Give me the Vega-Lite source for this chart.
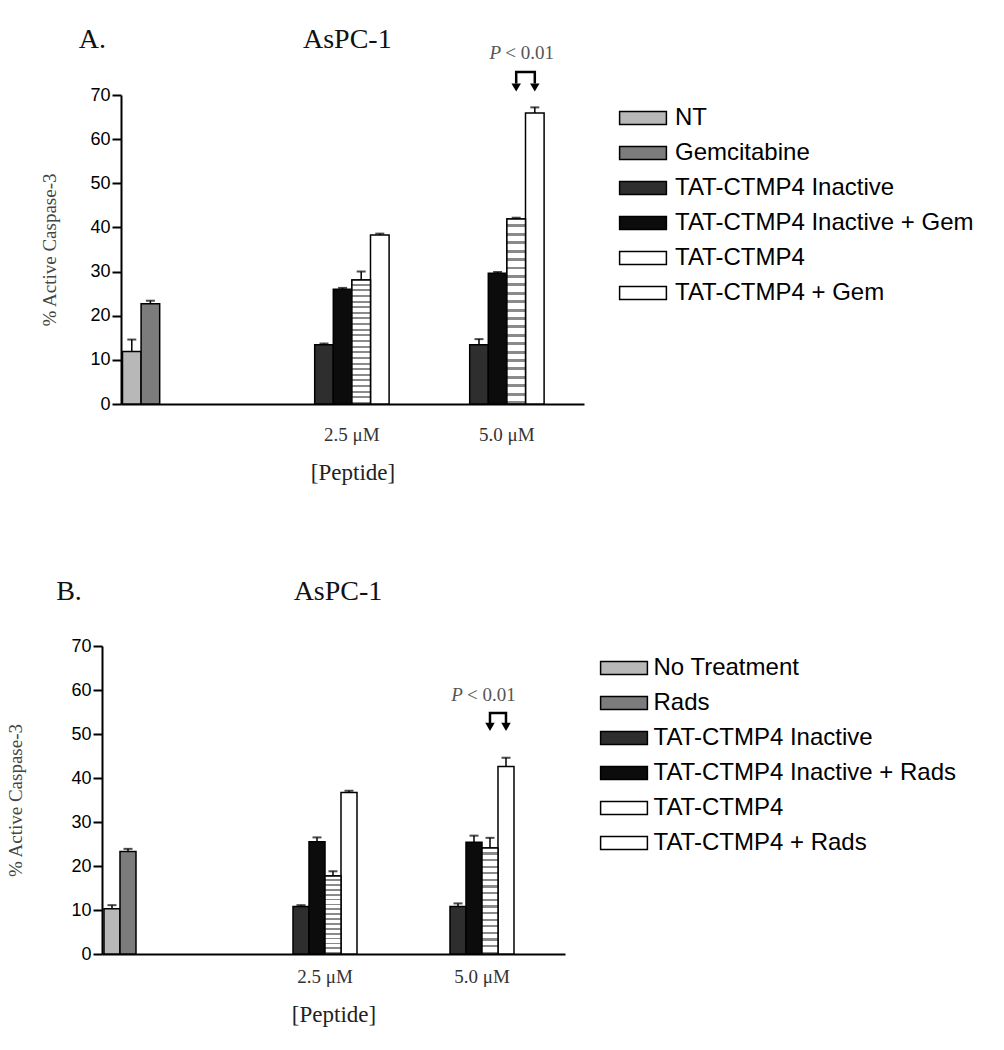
{
"$schema": "https://vega.github.io/schema/vega-lite/v6.json",
"background": "white",
"padding": {"left": 6, "top": 25, "right": 5, "bottom": 5},
"bounds": "flush",
"spacing": 242,
"config": {"view": {"stroke": null}, "axis": {"grid": false}},
"resolve": {"scale": {"x": "independent", "y": "independent", "xOffset": "independent", "fill": "independent"}, "legend": {"fill": "independent"}},
"datasets": {
"barsA": [
{"group":"ctrl","series":"NT","value":11.9,"upper":14.6},
{"group":"ctrl","series":"Gemcitabine","value":22.7,"upper":23.4},
{"group":"2.5 μM","series":"TAT-CTMP4 Inactive","value":13.4,"upper":13.7},
{"group":"2.5 μM","series":"TAT-CTMP4 Inactive + Gem","value":26.0,"upper":26.3},
{"group":"2.5 μM","series":"TAT-CTMP4","value":28.1,"upper":30.0},
{"group":"2.5 μM","series":"TAT-CTMP4 + Gem","value":38.3,"upper":38.6},
{"group":"5.0 μM","series":"TAT-CTMP4 Inactive","value":13.4,"upper":14.7},
{"group":"5.0 μM","series":"TAT-CTMP4 Inactive + Gem","value":29.6,"upper":29.9},
{"group":"5.0 μM","series":"TAT-CTMP4","value":41.9,"upper":42.2},
{"group":"5.0 μM","series":"TAT-CTMP4 + Gem","value":65.9,"upper":67.2}
],
"bracketA": [
{"group":"5.0 μM","series":"TAT-CTMP4","value":72.6,"o":1},
{"group":"5.0 μM","series":"TAT-CTMP4","value":75.2,"o":2},
{"group":"5.0 μM","series":"TAT-CTMP4 + Gem","value":75.2,"o":3},
{"group":"5.0 μM","series":"TAT-CTMP4 + Gem","value":72.6,"o":4}
],
"arrowsA": [
{"group":"5.0 μM","series":"TAT-CTMP4","value":71.7},
{"group":"5.0 μM","series":"TAT-CTMP4 + Gem","value":71.7}
],
"pA": [{"group":"5.0 μM","series":"TAT-CTMP4","value":79.5}],
"barsB": [
{"group":"ctrl","series":"No Treatment","value":10.3,"upper":11.1},
{"group":"ctrl","series":"Rads","value":23.3,"upper":23.9},
{"group":"2.5 μM","series":"TAT-CTMP4 Inactive","value":10.8,"upper":11.1},
{"group":"2.5 μM","series":"TAT-CTMP4 Inactive + Rads","value":25.5,"upper":26.5},
{"group":"2.5 μM","series":"TAT-CTMP4","value":17.7,"upper":18.8},
{"group":"2.5 μM","series":"TAT-CTMP4 + Rads","value":36.7,"upper":37.1},
{"group":"5.0 μM","series":"TAT-CTMP4 Inactive","value":10.8,"upper":11.5},
{"group":"5.0 μM","series":"TAT-CTMP4 Inactive + Rads","value":25.4,"upper":26.9},
{"group":"5.0 μM","series":"TAT-CTMP4","value":24.1,"upper":26.4},
{"group":"5.0 μM","series":"TAT-CTMP4 + Rads","value":42.6,"upper":44.6}
],
"bracketB": [
{"group":"5.0 μM","series":"TAT-CTMP4","value":52.4,"o":1},
{"group":"5.0 μM","series":"TAT-CTMP4","value":54.8,"o":2},
{"group":"5.0 μM","series":"TAT-CTMP4 + Rads","value":54.8,"o":3},
{"group":"5.0 μM","series":"TAT-CTMP4 + Rads","value":52.4,"o":4}
],
"arrowsB": [
{"group":"5.0 μM","series":"TAT-CTMP4","value":51.6},
{"group":"5.0 μM","series":"TAT-CTMP4 + Rads","value":51.6}
],
"pB": [{"group":"5.0 μM","series":"TAT-CTMP4","value":58.9}]
},
"vconcat": [
{
"width": 482, "height": 309,
"layer": [
{
"data": {"name": "barsA"},
"mark": {"type": "bar", "stroke": "black", "strokeWidth": 1.5},
"encoding": {
"x": {"field": "group", "type": "nominal", "sort": null,
 "scale": {"domain": ["ctrl", "2.5 μM", "5.0 μM"], "range": [19, 482], "paddingInner": 0.28, "paddingOuter": 0.1335, "align": 0.036},
 "axis": {"title": "[Peptide]", "titleFont": "Liberation Serif", "titleFontSize": 23, "titleFontWeight": "normal", "titleColor": "#222", "titlePadding": 17,
  "labelFont": "Liberation Serif", "labelFontSize": 19, "labelColor": "#333", "labelAngle": 0, "labelExpr": "datum.value == 'ctrl' ? '' : datum.value",
  "ticks": false, "tickSize": 0, "labelPadding": 21, "labelOffset": 18.6, "domainColor": "black", "domainWidth": 2}},
"xOffset": {"field": "series", "type": "nominal", "scale": {"domain": ["NT", "Gemcitabine", "TAT-CTMP4 Inactive", "TAT-CTMP4 Inactive + Gem", "TAT-CTMP4", "TAT-CTMP4 + Gem"], "paddingInner": 0, "paddingOuter": 0}},
"y": {"field": "value", "type": "quantitative",
 "scale": {"domain": [0, 70], "nice": false},
 "axis": {"offset": -19, "values": [0, 10, 20, 30, 40, 50, 60, 70], "title": "% Active Caspase-3", "titleFont": "Liberation Serif", "titleFontSize": 19, "titleFontWeight": "normal", "titleColor": "#444", "titlePadding": 30,
  "labelFont": "Liberation Sans", "labelFontSize": 18, "labelColor": "black", "labelPadding": 2, "tickSize": 9, "tickColor": "black", "tickWidth": 2, "domainColor": "black", "domainWidth": 2}},
"fill": {"field": "series", "type": "nominal",
 "scale": {"domain": ["NT", "Gemcitabine", "TAT-CTMP4 Inactive", "TAT-CTMP4 Inactive + Gem", "TAT-CTMP4", "TAT-CTMP4 + Gem"], "range": ["#b8b8b8", "#7c7c7c", "#2e2e2e", "#0c0c0c", "#ffffff", "#ffffff"]},
 "legend": {"title": null, "orient": "none", "legendX": 529, "legendY": 11, "padding": 0, "labelFont": "Liberation Sans", "labelFontSize": 24, "labelColor": "black", "labelLimit": 400,
  "symbolType": "M-3.6,-1H3.6V1H-3.6Z", "symbolSize": 169, "symbolStrokeColor": "black", "symbolStrokeWidth": 1.5, "rowPadding": 11, "labelOffset": 20}}
}
},
{
"data": {"name": "barsA"},
"transform": [{"filter": "datum.series == 'TAT-CTMP4'"}],
"mark": {"type": "bar", "stroke": "black", "strokeWidth": 1.5,
 "fill": {"gradient": "linear", "x1": 0, "y1": 0, "x2": 0, "y2": 1, "stops": [
{"offset":0,"color":"#ffffff"},{"offset":0.0295,"color":"#ffffff"},{"offset":0.0295,"color":"#8a8a8a"},{"offset":0.0455,"color":"#8a8a8a"},
{"offset":0.0455,"color":"#ffffff"},{"offset":0.0750,"color":"#ffffff"},{"offset":0.0750,"color":"#8a8a8a"},{"offset":0.0909,"color":"#8a8a8a"},
{"offset":0.0909,"color":"#ffffff"},{"offset":0.1204,"color":"#ffffff"},{"offset":0.1204,"color":"#8a8a8a"},{"offset":0.1364,"color":"#8a8a8a"},
{"offset":0.1364,"color":"#ffffff"},{"offset":0.1659,"color":"#ffffff"},{"offset":0.1659,"color":"#8a8a8a"},{"offset":0.1818,"color":"#8a8a8a"},
{"offset":0.1818,"color":"#ffffff"},{"offset":0.2113,"color":"#ffffff"},{"offset":0.2113,"color":"#8a8a8a"},{"offset":0.2273,"color":"#8a8a8a"},
{"offset":0.2273,"color":"#ffffff"},{"offset":0.2568,"color":"#ffffff"},{"offset":0.2568,"color":"#8a8a8a"},{"offset":0.2727,"color":"#8a8a8a"},
{"offset":0.2727,"color":"#ffffff"},{"offset":0.3022,"color":"#ffffff"},{"offset":0.3022,"color":"#8a8a8a"},{"offset":0.3182,"color":"#8a8a8a"},
{"offset":0.3182,"color":"#ffffff"},{"offset":0.3477,"color":"#ffffff"},{"offset":0.3477,"color":"#8a8a8a"},{"offset":0.3636,"color":"#8a8a8a"},
{"offset":0.3636,"color":"#ffffff"},{"offset":0.3931,"color":"#ffffff"},{"offset":0.3931,"color":"#8a8a8a"},{"offset":0.4091,"color":"#8a8a8a"},
{"offset":0.4091,"color":"#ffffff"},{"offset":0.4386,"color":"#ffffff"},{"offset":0.4386,"color":"#8a8a8a"},{"offset":0.4545,"color":"#8a8a8a"},
{"offset":0.4545,"color":"#ffffff"},{"offset":0.4840,"color":"#ffffff"},{"offset":0.4840,"color":"#8a8a8a"},{"offset":0.5,"color":"#8a8a8a"},
{"offset":0.5,"color":"#ffffff"},{"offset":0.5295,"color":"#ffffff"},{"offset":0.5295,"color":"#8a8a8a"},{"offset":0.5455,"color":"#8a8a8a"},
{"offset":0.5455,"color":"#ffffff"},{"offset":0.5750,"color":"#ffffff"},{"offset":0.5750,"color":"#8a8a8a"},{"offset":0.5909,"color":"#8a8a8a"},
{"offset":0.5909,"color":"#ffffff"},{"offset":0.6204,"color":"#ffffff"},{"offset":0.6204,"color":"#8a8a8a"},{"offset":0.6364,"color":"#8a8a8a"},
{"offset":0.6364,"color":"#ffffff"},{"offset":0.6659,"color":"#ffffff"},{"offset":0.6659,"color":"#8a8a8a"},{"offset":0.6818,"color":"#8a8a8a"},
{"offset":0.6818,"color":"#ffffff"},{"offset":0.7113,"color":"#ffffff"},{"offset":0.7113,"color":"#8a8a8a"},{"offset":0.7273,"color":"#8a8a8a"},
{"offset":0.7273,"color":"#ffffff"},{"offset":0.7568,"color":"#ffffff"},{"offset":0.7568,"color":"#8a8a8a"},{"offset":0.7727,"color":"#8a8a8a"},
{"offset":0.7727,"color":"#ffffff"},{"offset":0.8022,"color":"#ffffff"},{"offset":0.8022,"color":"#8a8a8a"},{"offset":0.8182,"color":"#8a8a8a"},
{"offset":0.8182,"color":"#ffffff"},{"offset":0.8477,"color":"#ffffff"},{"offset":0.8477,"color":"#8a8a8a"},{"offset":0.8636,"color":"#8a8a8a"},
{"offset":0.8636,"color":"#ffffff"},{"offset":0.8931,"color":"#ffffff"},{"offset":0.8931,"color":"#8a8a8a"},{"offset":0.9091,"color":"#8a8a8a"},
{"offset":0.9091,"color":"#ffffff"},{"offset":0.9386,"color":"#ffffff"},{"offset":0.9386,"color":"#8a8a8a"},{"offset":0.9545,"color":"#8a8a8a"},
{"offset":0.9545,"color":"#ffffff"},{"offset":0.9840,"color":"#ffffff"},{"offset":0.9840,"color":"#8a8a8a"},{"offset":1,"color":"#8a8a8a"}
 ]}},
"encoding": {
"x": {"field": "group", "type": "nominal"},
"xOffset": {"field": "series", "type": "nominal"},
"y": {"field": "value", "type": "quantitative"}
}
},
{
"data": {"name": "barsA"},
"mark": {"type": "rule", "color": "black", "strokeWidth": 1.5},
"encoding": {
"x": {"field": "group", "type": "nominal"},
"xOffset": {"field": "series", "type": "nominal"},
"y": {"field": "value", "type": "quantitative"},
"y2": {"field": "upper"}
}
},
{
"data": {"name": "barsA"},
"mark": {"type": "tick", "color": "black", "size": 9, "thickness": 2},
"encoding": {
"x": {"field": "group", "type": "nominal"},
"xOffset": {"field": "series", "type": "nominal"},
"y": {"field": "upper", "type": "quantitative"}
}
},
{
"data": {"name": "bracketA"},
"mark": {"type": "line", "color": "black", "strokeWidth": 2.5},
"encoding": {
"x": {"field": "group", "type": "nominal"},
"xOffset": {"field": "series", "type": "nominal"},
"y": {"field": "value", "type": "quantitative"},
"order": {"field": "o", "type": "quantitative"}
}
},
{
"data": {"name": "arrowsA"},
"mark": {"type": "point", "shape": "triangle-down", "filled": true, "color": "black", "size": 90, "opacity": 1},
"encoding": {
"x": {"field": "group", "type": "nominal"},
"xOffset": {"field": "series", "type": "nominal"},
"y": {"field": "value", "type": "quantitative"}
}
},
{
"data": {"name": "pA"},
"mark": {"type": "text", "text": "P", "font": "Liberation Serif", "fontSize": 19, "fontStyle": "italic", "color": "#555", "align": "center", "baseline": "middle", "dx": -21},
"encoding": {
"x": {"field": "group", "type": "nominal"},
"xOffset": {"field": "series", "type": "nominal"},
"y": {"field": "value", "type": "quantitative"}
}
},
{
"data": {"name": "pA"},
"mark": {"type": "text", "text": "< 0.01", "font": "Liberation Serif", "fontSize": 19, "color": "#555", "align": "left", "baseline": "middle", "dx": -11},
"encoding": {
"x": {"field": "group", "type": "nominal"},
"xOffset": {"field": "series", "type": "nominal"},
"y": {"field": "value", "type": "quantitative"}
}
},
{
"data": {"values": [{"label": "A."}]},
"mark": {"type": "text", "font": "Liberation Serif", "fontSize": 28, "color": "#111", "align": "center", "baseline": "alphabetic", "dx": -86},
"encoding": {
"x": {"datum": "ctrl", "type": "nominal"},
"y": {"datum": 80.65, "type": "quantitative"},
"text": {"field": "label"}
}
},
{
"data": {"values": [{"label": "AsPC-1"}]},
"mark": {"type": "text", "font": "Liberation Serif", "fontSize": 28, "color": "#111", "align": "center", "baseline": "alphabetic", "dx": 14},
"encoding": {
"x": {"datum": "2.5 μM", "type": "nominal"},
"y": {"datum": 80.65, "type": "quantitative"},
"text": {"field": "label"}
}
}
]
},
{
"width": 463, "height": 308,
"layer": [
{
"data": {"name": "barsB"},
"mark": {"type": "bar", "stroke": "black", "strokeWidth": 1.5},
"encoding": {
"x": {"field": "group", "type": "nominal", "sort": null,
 "scale": {"domain": ["ctrl", "2.5 μM", "5.0 μM"], "range": [0, 463], "paddingInner": 0.3885, "paddingOuter": 0.1688, "align": 0.0377},
 "axis": {"title": "[Peptide]", "titleFont": "Liberation Serif", "titleFontSize": 23, "titleFontWeight": "normal", "titleColor": "#222", "titlePadding": 17,
  "labelFont": "Liberation Serif", "labelFontSize": 19, "labelColor": "#333", "labelAngle": 0, "labelExpr": "datum.value == 'ctrl' ? '' : datum.value",
  "ticks": false, "tickSize": 0, "labelPadding": 13.5, "labelOffset": 16, "domainColor": "black", "domainWidth": 2}},
"xOffset": {"field": "series", "type": "nominal", "scale": {"domain": ["No Treatment", "Rads", "TAT-CTMP4 Inactive", "TAT-CTMP4 Inactive + Rads", "TAT-CTMP4", "TAT-CTMP4 + Rads"], "paddingInner": 0, "paddingOuter": 0}},
"y": {"field": "value", "type": "quantitative",
 "scale": {"domain": [0, 70], "nice": false},
 "axis": {"values": [0, 10, 20, 30, 40, 50, 60, 70], "title": "% Active Caspase-3", "titleFont": "Liberation Serif", "titleFontSize": 19, "titleFontWeight": "normal", "titleColor": "#444", "titlePadding": 45,
  "labelFont": "Liberation Sans", "labelFontSize": 18, "labelColor": "black", "labelPadding": 2, "tickSize": 9, "tickColor": "black", "tickWidth": 2, "domainColor": "black", "domainWidth": 2}},
"fill": {"field": "series", "type": "nominal",
 "scale": {"domain": ["No Treatment", "Rads", "TAT-CTMP4 Inactive", "TAT-CTMP4 Inactive + Rads", "TAT-CTMP4", "TAT-CTMP4 + Rads"], "range": ["#b8b8b8", "#7c7c7c", "#2e2e2e", "#0c0c0c", "#ffffff", "#ffffff"]},
 "legend": {"title": null, "orient": "none", "legendX": 510, "legendY": 10, "padding": 0, "labelFont": "Liberation Sans", "labelFontSize": 24, "labelColor": "black", "labelLimit": 400,
  "symbolType": "M-3.6,-1H3.6V1H-3.6Z", "symbolSize": 169, "symbolStrokeColor": "black", "symbolStrokeWidth": 1.5, "rowPadding": 11, "labelOffset": 17.5}}
}
},
{
"data": {"name": "barsB"},
"transform": [{"filter": "datum.series == 'TAT-CTMP4'"}],
"mark": {"type": "bar", "stroke": "black", "strokeWidth": 1.5,
 "fill": {"gradient": "linear", "x1": 0, "y1": 0, "x2": 0, "y2": 1, "stops": [
{"offset":0,"color":"#ffffff"},{"offset":0.0406,"color":"#ffffff"},{"offset":0.0406,"color":"#8a8a8a"},{"offset":0.0625,"color":"#8a8a8a"},
{"offset":0.0625,"color":"#ffffff"},{"offset":0.1031,"color":"#ffffff"},{"offset":0.1031,"color":"#8a8a8a"},{"offset":0.125,"color":"#8a8a8a"},
{"offset":0.125,"color":"#ffffff"},{"offset":0.1656,"color":"#ffffff"},{"offset":0.1656,"color":"#8a8a8a"},{"offset":0.1875,"color":"#8a8a8a"},
{"offset":0.1875,"color":"#ffffff"},{"offset":0.2281,"color":"#ffffff"},{"offset":0.2281,"color":"#8a8a8a"},{"offset":0.25,"color":"#8a8a8a"},
{"offset":0.25,"color":"#ffffff"},{"offset":0.2906,"color":"#ffffff"},{"offset":0.2906,"color":"#8a8a8a"},{"offset":0.3125,"color":"#8a8a8a"},
{"offset":0.3125,"color":"#ffffff"},{"offset":0.3531,"color":"#ffffff"},{"offset":0.3531,"color":"#8a8a8a"},{"offset":0.375,"color":"#8a8a8a"},
{"offset":0.375,"color":"#ffffff"},{"offset":0.4156,"color":"#ffffff"},{"offset":0.4156,"color":"#8a8a8a"},{"offset":0.4375,"color":"#8a8a8a"},
{"offset":0.4375,"color":"#ffffff"},{"offset":0.4781,"color":"#ffffff"},{"offset":0.4781,"color":"#8a8a8a"},{"offset":0.5,"color":"#8a8a8a"},
{"offset":0.5,"color":"#ffffff"},{"offset":0.5406,"color":"#ffffff"},{"offset":0.5406,"color":"#8a8a8a"},{"offset":0.5625,"color":"#8a8a8a"},
{"offset":0.5625,"color":"#ffffff"},{"offset":0.6031,"color":"#ffffff"},{"offset":0.6031,"color":"#8a8a8a"},{"offset":0.625,"color":"#8a8a8a"},
{"offset":0.625,"color":"#ffffff"},{"offset":0.6656,"color":"#ffffff"},{"offset":0.6656,"color":"#8a8a8a"},{"offset":0.6875,"color":"#8a8a8a"},
{"offset":0.6875,"color":"#ffffff"},{"offset":0.7281,"color":"#ffffff"},{"offset":0.7281,"color":"#8a8a8a"},{"offset":0.75,"color":"#8a8a8a"},
{"offset":0.75,"color":"#ffffff"},{"offset":0.7906,"color":"#ffffff"},{"offset":0.7906,"color":"#8a8a8a"},{"offset":0.8125,"color":"#8a8a8a"},
{"offset":0.8125,"color":"#ffffff"},{"offset":0.8531,"color":"#ffffff"},{"offset":0.8531,"color":"#8a8a8a"},{"offset":0.875,"color":"#8a8a8a"},
{"offset":0.875,"color":"#ffffff"},{"offset":0.9156,"color":"#ffffff"},{"offset":0.9156,"color":"#8a8a8a"},{"offset":0.9375,"color":"#8a8a8a"},
{"offset":0.9375,"color":"#ffffff"},{"offset":0.9781,"color":"#ffffff"},{"offset":0.9781,"color":"#8a8a8a"},{"offset":1,"color":"#8a8a8a"}
 ]}},
"encoding": {
"x": {"field": "group", "type": "nominal"},
"xOffset": {"field": "series", "type": "nominal"},
"y": {"field": "value", "type": "quantitative"}
}
},
{
"data": {"name": "barsB"},
"mark": {"type": "rule", "color": "black", "strokeWidth": 1.5},
"encoding": {
"x": {"field": "group", "type": "nominal"},
"xOffset": {"field": "series", "type": "nominal"},
"y": {"field": "value", "type": "quantitative"},
"y2": {"field": "upper"}
}
},
{
"data": {"name": "barsB"},
"mark": {"type": "tick", "color": "black", "size": 9, "thickness": 2},
"encoding": {
"x": {"field": "group", "type": "nominal"},
"xOffset": {"field": "series", "type": "nominal"},
"y": {"field": "upper", "type": "quantitative"}
}
},
{
"data": {"name": "bracketB"},
"mark": {"type": "line", "color": "black", "strokeWidth": 2.5},
"encoding": {
"x": {"field": "group", "type": "nominal"},
"xOffset": {"field": "series", "type": "nominal"},
"y": {"field": "value", "type": "quantitative"},
"order": {"field": "o", "type": "quantitative"}
}
},
{
"data": {"name": "arrowsB"},
"mark": {"type": "point", "shape": "triangle-down", "filled": true, "color": "black", "size": 90, "opacity": 1},
"encoding": {
"x": {"field": "group", "type": "nominal"},
"xOffset": {"field": "series", "type": "nominal"},
"y": {"field": "value", "type": "quantitative"}
}
},
{
"data": {"name": "pB"},
"mark": {"type": "text", "text": "P", "font": "Liberation Serif", "fontSize": 19, "fontStyle": "italic", "color": "#555", "align": "center", "baseline": "middle", "dx": -33},
"encoding": {
"x": {"field": "group", "type": "nominal"},
"xOffset": {"field": "series", "type": "nominal"},
"y": {"field": "value", "type": "quantitative"}
}
},
{
"data": {"name": "pB"},
"mark": {"type": "text", "text": "< 0.01", "font": "Liberation Serif", "fontSize": 19, "color": "#555", "align": "left", "baseline": "middle", "dx": -23},
"encoding": {
"x": {"field": "group", "type": "nominal"},
"xOffset": {"field": "series", "type": "nominal"},
"y": {"field": "value", "type": "quantitative"}
}
},
{
"data": {"values": [{"label": "B."}]},
"mark": {"type": "text", "font": "Liberation Serif", "fontSize": 28, "color": "#111", "align": "center", "baseline": "alphabetic", "dx": -83},
"encoding": {
"x": {"datum": "ctrl", "type": "nominal"},
"y": {"datum": 80.45, "type": "quantitative"},
"text": {"field": "label"}
}
},
{
"data": {"values": [{"label": "AsPC-1"}]},
"mark": {"type": "text", "font": "Liberation Serif", "fontSize": 28, "color": "#111", "align": "center", "baseline": "alphabetic", "dx": 29},
"encoding": {
"x": {"datum": "2.5 μM", "type": "nominal"},
"y": {"datum": 80.45, "type": "quantitative"},
"text": {"field": "label"}
}
}
]
}
]
}
